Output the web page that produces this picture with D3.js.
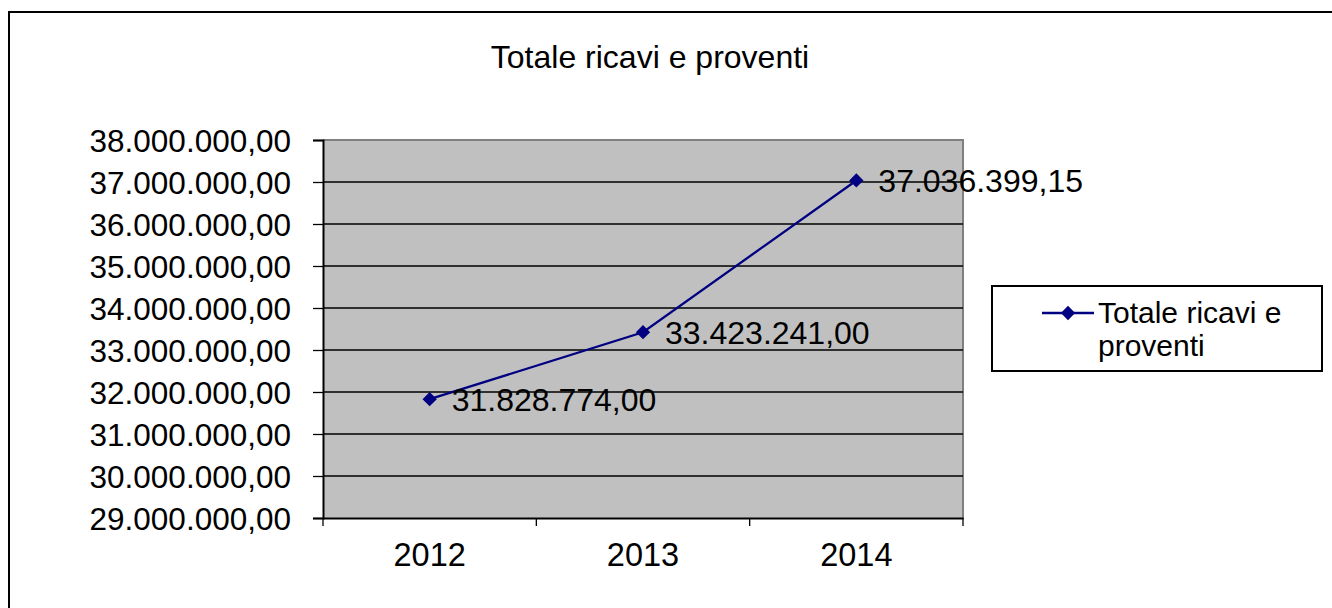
<!DOCTYPE html>
<html><head><meta charset="utf-8">
<script src="https://cdn.jsdelivr.net/npm/d3@7"></script>
<style>body{margin:0;background:#fff}svg{display:block}text{font-family:"Liberation Sans",Arial,sans-serif;fill:#000}</style>
</head><body>
<script>
const title = "Totale ricavi e proventi";
const seriesName = "Totale ricavi e proventi";
const categories = ["2012", "2013", "2014"];
const values = [31828774.00, 33423241.00, 37036399.15];
const yTicks = [29000000, 30000000, 31000000, 32000000, 33000000, 34000000, 35000000, 36000000, 37000000, 38000000];
const valueLabels = ["31.828.774,00", "33.423.241,00", "37.036.399,15"];

const W = 1332, H = 608;
const svg = d3.select("body").append("svg").attr("width", W).attr("height", H);
svg.append("rect").attr("x", 9).attr("y", 12).attr("width", W + 10).attr("height", H + 10)
  .attr("fill", "#fff").attr("stroke", "#000").attr("stroke-width", 2);

const L = 323, R = 963, T = 140, B = 518;
const x = d3.scaleBand().domain(categories).range([L, R]);
const y = d3.scaleLinear().domain([29000000, 38000000]).range([B, T]);
const fmt = d => d3.formatLocale({decimal: ",", thousands: ".", grouping: [3], currency: ["", ""]}).format(",.2f")(d);

svg.append("rect").attr("x", L).attr("y", T).attr("width", R - L).attr("height", B - T).attr("fill", "#c0c0c0");
svg.append("path").attr("d", `M${L},${T}H${R}V${B}`).attr("fill", "none").attr("stroke", "#808080").attr("stroke-width", 2);
svg.append("g").selectAll("line").data(yTicks.slice(1, -1)).join("line")
  .attr("x1", L).attr("x2", R).attr("y1", d => y(d)).attr("y2", d => y(d)).attr("stroke", "#000").attr("stroke-width", 1.3);

const yAxis = svg.append("g").attr("transform", `translate(${L},0)`)
  .call(d3.axisLeft(y).tickValues(yTicks).tickFormat(fmt).tickSizeOuter(0).tickSize(10).tickPadding(22));
yAxis.select(".domain").attr("stroke", "#000").attr("stroke-width", 2);
yAxis.selectAll(".tick line").attr("stroke", "#000").attr("stroke-width", 1.3);
yAxis.selectAll("text").style("font-size", "31.5px").attr("font-family", null).attr("fill", "#000").attr("dy", "0.36em");

const xAxis = svg.append("g").attr("transform", `translate(0,${B})`)
  .call(d3.axisBottom(x).tickSize(0).tickSizeOuter(0).tickPadding(25));
xAxis.select(".domain").attr("stroke", "#000").attr("stroke-width", 2);
xAxis.selectAll("text").style("font-size", "32.5px").attr("fill", "#000");
svg.append("g").selectAll("line").data(d3.range(categories.length + 1)).join("line")
  .attr("x1", i => L + i * x.step()).attr("x2", i => L + i * x.step())
  .attr("y1", B).attr("y2", B + 8).attr("stroke", "#000").attr("stroke-width", 1.3);

const cx = d => x(d) + x.bandwidth() / 2;
const pts = categories.map((c, i) => [cx(c), y(values[i])]);
svg.append("path").attr("d", d3.line()(pts)).attr("fill", "none").attr("stroke", "#000080").attr("stroke-width", 2.3);
const diamond = d3.symbol().type(d3.symbolDiamond2).size(130);
svg.append("g").selectAll("path").data(pts).join("path")
  .attr("transform", d => `translate(${d[0]},${d[1]})`).attr("d", diamond).attr("fill", "#000080");
svg.append("g").selectAll("text").data(pts).join("text")
  .attr("x", d => d[0] + 22).attr("y", d => d[1]).attr("dy", "0.36em")
  .style("font-size", "32px").text((d, i) => valueLabels[i]);

svg.append("text").attr("x", 650).attr("y", 68).attr("text-anchor", "middle").style("font-size", "32px").text(title);

const lg = svg.append("g");
lg.append("rect").attr("x", 992).attr("y", 286).attr("width", 330).attr("height", 85)
  .attr("fill", "#fff").attr("stroke", "#000").attr("stroke-width", 2);
lg.append("line").attr("x1", 1042).attr("x2", 1094).attr("y1", 313).attr("y2", 313).attr("stroke", "#000080").attr("stroke-width", 2.3);
lg.append("path").attr("transform", "translate(1068,313)").attr("d", diamond).attr("fill", "#000080");
const words = ["Totale ricavi e", "proventi"];
lg.append("text").attr("x", 1098).attr("y", 323).style("font-size", "30px").text(words[0]);
lg.append("text").attr("x", 1098).attr("y", 356).style("font-size", "30px").text(words[1]);
</script>
</body></html>
